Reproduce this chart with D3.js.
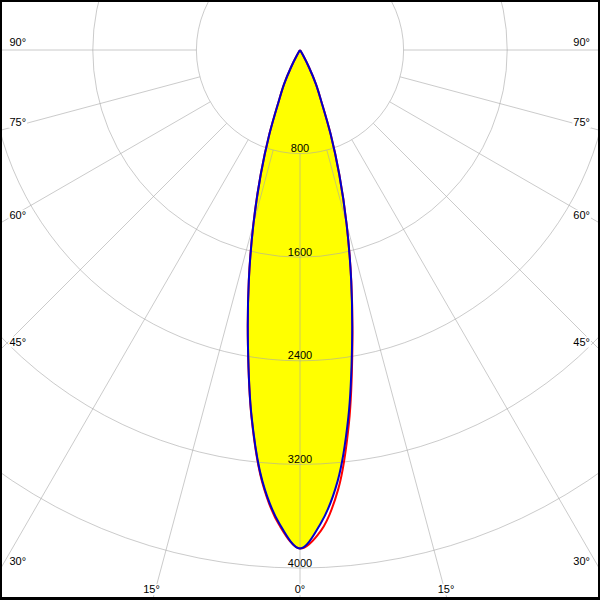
<!DOCTYPE html>
<html>
<head>
<meta charset="utf-8">
<script src="https://cdn.jsdelivr.net/npm/d3@7"></script>
<style>
html,body{margin:0;padding:0;background:#fff;}
svg{display:block;}
text{font-family:"Liberation Sans",Arial,sans-serif;font-size:11px;fill:#000;}
</style>
</head>
<body>
<svg id="chart" width="600" height="600"></svg>
<script>
// ---- data (candela) ----
const angles = [0,2.5,5,7.5,10,12.5,15,17.5,20,22.5,25,27.5,30,32.5,35,40,45,50,55,60,65,70,75,80,85,90];
const blueC90  = [3850,3660,3340,2860,2315,1827,1389,1010,691,432,291,150,45,5,0,0,0,0,0,0,0,0,0,0,0,0];
const blueC270 = [3850,3660,3340,2860,2315,1827,1389,1010,691,432,291,150,45,5,0,0,0,0,0,0,0,0,0,0,0,0];
const redC0    = [3850,3715,3400,2900,2330,1830,1389,1010,691,432,291,150,45,5,0,0,0,0,0,0,0,0,0,0,0,0];
const redC180  = [3850,3672,3350,2865,2315,1827,1389,1010,691,432,291,150,45,5,0,0,0,0,0,0,0,0,0,0,0,0];
const ringValues = [800,1600,2400,3200,4000];
const spokeAngles = [-90,-75,-60,-45,-30,-15,0,15,30,45,60,75,90];
const angleLabels = ["90°","75°","60°","45°","30°","15°","0°","15°","30°","45°","60°","75°","90°"];

const W = 600, H = 600;
const cx = 300, cy = 50;
const rScale = d3.scaleLinear().domain([0,4000]).range([0,518]);
const rad = d => d*Math.PI/180;

const svg = d3.select("#chart");
const g = svg.append("g").attr("transform",`translate(${cx},${cy})`);

// closed polar outline: left half (angle pi+theta) from 90 down to 0, right half (pi-theta) 0 to 90
function outline(leftVals, rightVals){
  const pts = [];
  for (let i = angles.length-1; i >= 0; i--) pts.push([Math.PI + rad(angles[i]), rScale(leftVals[i])]);
  for (let i = 1; i < angles.length; i++) pts.push([Math.PI - rad(angles[i]), rScale(rightVals[i])]);
  return pts;
}
const radial = d3.lineRadial().angle(d=>d[0]).radius(d=>d[1]).curve(d3.curveCatmullRom.alpha(0.5));

// yellow fill
g.append("path").attr("d", radial(outline(blueC270, blueC90)))
  .attr("fill","#ffff00").attr("stroke","none");

// intensity labels
g.selectAll("text.ring").data(ringValues).enter().append("text")
  .attr("class","ring").attr("x",0).attr("y",d=>rScale(d)-1.5)
  .attr("text-anchor","middle").text(d=>d);

// grid
const grid = g.append("g").attr("stroke","#a8a8a8").attr("stroke-opacity",0.6).attr("fill","none").attr("stroke-width",1);
grid.selectAll("circle").data(ringValues).enter().append("circle").attr("r",d=>rScale(d));
grid.selectAll("line").data(spokeAngles).enter().append("line")
  .attr("x1",d=>rScale(ringValues[0])*Math.sin(rad(d)))
  .attr("y1",d=>rScale(ringValues[0])*Math.cos(rad(d)))
  .attr("x2",d=>1000*Math.sin(rad(d)))
  .attr("y2",d=>1000*Math.cos(rad(d)));

// angle labels at frame exit, on white boxes
const lab = svg.append("g");
spokeAngles.forEach((a,i)=>{
  const s = Math.sin(rad(Math.abs(a))), c = Math.cos(rad(Math.abs(a)));
  let x, y, anchor;
  const exitSideY = s > 0 ? cy + (cx/s)*c : Infinity;
  if (a !== 0 && exitSideY < H-10) {
    y = exitSideY - 4.5;
    if (a < 0) { x = 9.5; anchor = "start"; } else { x = 590; anchor = "end"; }
  } else {
    y = 593;
    const lx = cx + Math.sign(a)*(y-cy)*Math.tan(rad(Math.abs(a)));
    x = a < 0 ? lx - 3 : (a > 0 ? lx + 0.5 : cx);
    anchor = "middle";
  }
  const t = lab.append("text").attr("x",x).attr("y",y).attr("text-anchor",anchor).text(angleLabels[i]);
  const bb = t.node().getBBox();
  lab.insert("rect","text:last-child").attr("x",bb.x-1).attr("y",bb.y+1).attr("width",bb.width+2).attr("height",bb.height-1).attr("fill","#fff");
});

// curves
g.append("path").attr("d", radial(outline(redC180, redC0)))
  .attr("fill","none").attr("stroke","#ff0000").attr("stroke-width",2);
g.append("path").attr("d", radial(outline(blueC270, blueC90)))
  .attr("fill","none").attr("stroke","#0000cc").attr("stroke-width",2);

// frame
svg.append("rect").attr("x",0).attr("y",0).attr("width",W).attr("height",2).attr("fill","#000");
svg.append("rect").attr("x",0).attr("y",0).attr("width",2).attr("height",H).attr("fill","#000");
svg.append("rect").attr("x",W-2).attr("y",0).attr("width",2).attr("height",H).attr("fill","#000");
svg.append("rect").attr("x",0).attr("y",H-3).attr("width",W).attr("height",3).attr("fill","#000");
</script>
</body>
</html>
